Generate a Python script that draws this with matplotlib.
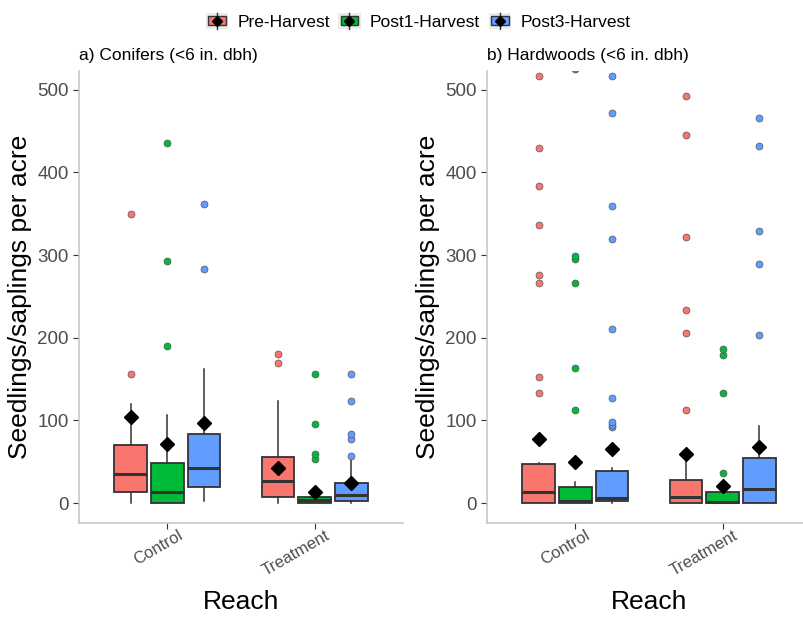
import matplotlib.pyplot as plt
from matplotlib.patches import Patch, Rectangle
from matplotlib.lines import Line2D
from matplotlib.legend_handler import HandlerBase

plt.rcParams['font.family'] = ['Liberation Sans', 'DejaVu Sans']

reaches = ['Control', 'Treatment']
periods = ['Pre-Harvest', 'Post1-Harvest', 'Post3-Harvest']
colors = ['#F8766D', '#00BA38', '#619CFF']

# box stats per panel: [reach][period] -> (whislo, q1, med, q3, whishi, mean)
conifer_stats = [
    [(0, 13, 35, 70, 120, 104), (0, 0, 13, 48, 106, 71), (3, 19, 42, 83, 162, 97)],
    [(0, 8, 27, 56, 123, 42), (0, 0, 4, 7, 8, 13), (0, 2, 10, 24, 52, 24)],
]
conifer_outliers = [
    [[156, 350], [190, 293, 436], [283, 362]],
    [[170, 180], [53, 60, 96, 156], [57, 77, 83, 123, 156]],
]

hardwood_stats = [
    [(0, 0, 13, 47, 49, 77), (0, 0, 2, 20, 25, 50), (0, 3, 6, 39, 42, 66)],
    [(0, 0, 7, 28, 60, 60), (0, 0, 1, 13, 25, 21), (0, 0, 17, 55, 93, 68)],
]
hardwood_outliers = [
    [[133, 153, 266, 276, 336, 383, 429, 516], [113, 163, 266, 295, 299, 525],
     [92, 95, 98, 127, 210, 319, 359, 472, 516]],
    [[113, 206, 233, 322, 445, 492], [37, 133, 179, 186],
     [203, 289, 329, 432, 466]],
]


class BoxKey(HandlerBase):
    # little boxplot glyph: grey key background, whisker, box and mean diamond
    def create_artists(self, legend, orig_handle, xdescent, ydescent,
                       width, height, fontsize, trans):
        x0, y0 = -xdescent, -ydescent
        bg = Rectangle((x0, y0), width, height, facecolor='#EBEBEB',
                       edgecolor='none', transform=trans)
        wh = Line2D([x0 + width / 2] * 2, [y0, y0 + height], color='#333333',
                    lw=1, transform=trans)
        box = Rectangle((x0 + width * 0.1, y0 + height * 0.22), width * 0.8,
                        height * 0.56, facecolor=orig_handle.get_facecolor(),
                        edgecolor='#333333', lw=1, transform=trans)
        dm = Line2D([x0 + width / 2], [y0 + height / 2], marker='D', color='black',
                    markersize=5, linestyle='none', transform=trans)
        return [bg, wh, box, dm]


def draw_panel(ax, stats, outliers, title):
    offsets = [-0.25, 0, 0.25]
    for r in range(len(reaches)):
        for p in range(len(periods)):
            lo, q1, med, q3, hi, mean = stats[r][p]
            bx = [dict(whislo=lo, q1=q1, med=med, q3=q3, whishi=hi,
                       mean=mean, fliers=outliers[r][p])]
            ax.bxp(bx, positions=[r + 1 + offsets[p]], widths=0.22,
                   patch_artist=True, showcaps=False, showmeans=True,
                   boxprops=dict(facecolor=colors[p], edgecolor='#333333', linewidth=1.3),
                   medianprops=dict(color='#333333', linewidth=2.2),
                   whiskerprops=dict(color='#333333', linewidth=1.1),
                   flierprops=dict(marker='o', markerfacecolor=colors[p],
                                   markeredgecolor='#555555', markeredgewidth=0.5,
                                   markersize=5),
                   meanprops=dict(marker='D', markerfacecolor='black',
                                  markeredgecolor='black', markersize=7),
                   manage_ticks=False)
    ax.set_xlim(0.4, 2.6)
    ax.set_ylim(-24, 522.5)

    # reach names sit slanted just right of their ticks
    ax.set_xticks([1, 2], labels=['', ''])
    for i, name in enumerate(reaches):
        ax.annotate(name, xy=(i + 1, 0), xycoords=ax.get_xaxis_transform(),
                    xytext=(7.2, -3.6), textcoords='offset points',
                    rotation=30, ha='right', va='top', rotation_mode='anchor',
                    fontsize=12, color='#4D4D4D', annotation_clip=False)

    ax.set_yticks([0, 100, 200, 300, 400, 500])
    ax.tick_params(axis='y', labelsize=13.5, labelcolor='#4D4D4D', color='#333333', length=4)
    ax.tick_params(axis='x', color='#333333', length=4)
    for s in ['top', 'right']:
        ax.spines[s].set_visible(False)
    for s in ['left', 'bottom']:
        ax.spines[s].set_color('#C8C8C8')
        ax.spines[s].set_linewidth(1.2)
    ax.set_xlabel('Reach', fontsize=19, labelpad=41)
    ax.set_ylabel('Seedlings/saplings per acre', fontsize=19)
    ax.set_title(title, loc='left', fontsize=12.5, pad=8)


fig = plt.figure(figsize=(8.04, 6.17), dpi=100)
ax1 = fig.add_axes([0.0983, 0.1524, 0.403, 0.7325])
ax2 = fig.add_axes([0.6057, 0.1524, 0.403, 0.7325])

draw_panel(ax1, conifer_stats, conifer_outliers, 'a) Conifers (<6 in. dbh)')
draw_panel(ax2, hardwood_stats, hardwood_outliers, 'b) Hardwoods (<6 in. dbh)')

handles = [Patch(facecolor=c) for c in colors]
fig.legend(handles, periods, loc='upper center', bbox_to_anchor=(0.52, 1.005), ncol=3,
           frameon=False, fontsize=12.5, handler_map={Patch: BoxKey()},
           handlelength=1.27, handleheight=1.05, columnspacing=0.5, handletextpad=0.55)

fig.savefig('out.png', dpi=100)
